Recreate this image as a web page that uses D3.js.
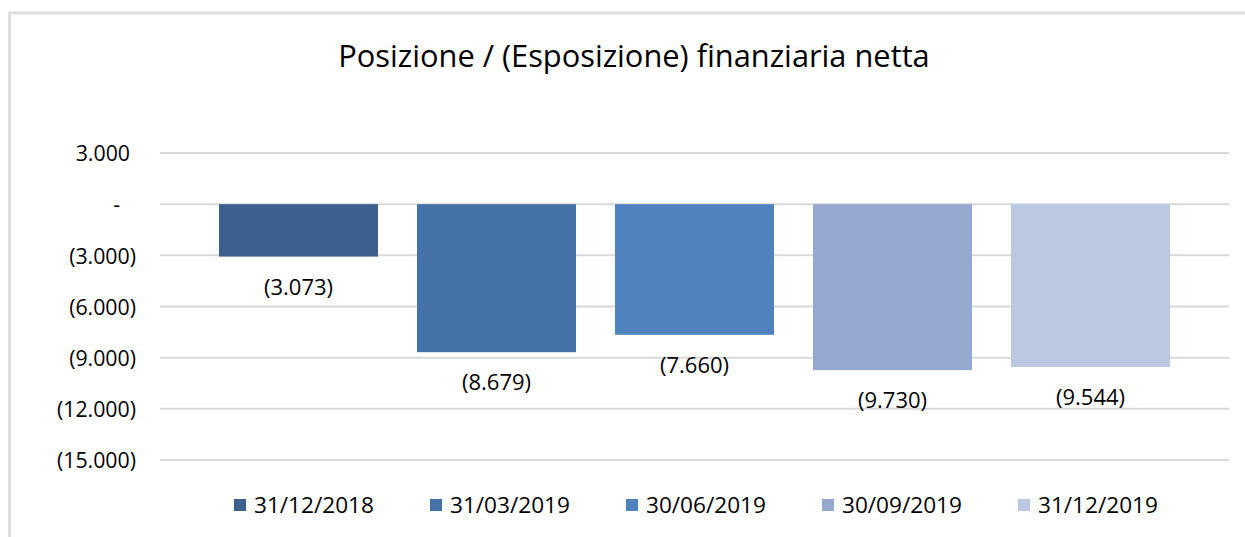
<!doctype html>
<html lang="it">
<head>
  <meta charset="UTF-8">
  <title>Posizione finanziaria netta</title>
  <style type="text/css">
    * { padding: 0; margin: 0; }
    body { background: #fff; }
    text { font-family: "Open Sans", sans-serif; fill: #000; }
    .axis path { display: none; }
    .axis line { display: none; }
  </style>
  <script src="https://cdn.jsdelivr.net/npm/d3@7/dist/d3.min.js"></script>
</head>
<body>
  <svg width="1245" height="537"></svg>
  <script>
    var dates = ["31/12/2018", "31/03/2019", "30/06/2019", "30/09/2019", "31/12/2019"];
    var values = [-3073, -8679, -7660, -9730, -9544];
    var colors = ["#3c5f8e", "#4573a7", "#4f82bf", "#95a9d0", "#bac8e1"];
    var tickValues = [3000, 0, -3000, -6000, -9000, -12000, -15000];

    var svg = d3.select("svg");
    var fmt = d3.formatLocale({ decimal: ",", thousands: ".", grouping: [3], currency: ["", ""] }).format(",d");
    function num(v) {
      if (v === 0) return "-";
      return v < 0 ? "(" + fmt(-v) + ")" : fmt(v);
    }

    // frame
    svg.append("rect")
      .attr("x", 9.5).attr("y", 13)
      .attr("width", 1260).attr("height", 560)
      .attr("fill", "none")
      .attr("stroke", "#dedede")
      .attr("stroke-width", 3);

    svg.append("text")
      .attr("x", 634).attr("y", 67)
      .attr("text-anchor", "middle")
      .style("font-size", "30.8px")
      .text("Posizione / (Esposizione) finanziaria netta");

    var x = d3.scaleBand()
      .domain(dates)
      .range([160, 1229])
      .paddingInner(0.197)
      .paddingOuter(0.298);

    var y = d3.scaleLinear()
      .domain([-15000, 3000])
      .range([460, 153]);

    // gridlines
    svg.append("g")
      .selectAll("line")
      .data(tickValues)
      .enter()
      .append("line")
      .attr("x1", 160).attr("x2", 1229)
      .attr("y1", function (d) { return y(d); })
      .attr("y2", function (d) { return y(d); })
      .attr("stroke", "#d9d9d9")
      .attr("stroke-width", 2);

    var yAxis = d3.axisLeft(y)
      .tickValues(tickValues)
      .tickSize(0)
      .tickPadding(0)
      .tickFormat(num);

    var ax = svg.append("g")
      .attr("class", "axis")
      .attr("transform", "translate(136,0)")
      .call(yAxis);
    ax.selectAll("text")
      .style("font-size", "21.3px")
      .attr("dx", function (d) { return d > 0 ? -6 : (d === 0 ? -16 : 0); })
      .attr("dy", "0.36em");

    svg.append("g")
      .selectAll("rect")
      .data(values)
      .enter()
      .append("rect")
      .attr("x", function (d, i) { return x(dates[i]); })
      .attr("y", y(0))
      .attr("width", x.bandwidth())
      .attr("height", function (d) { return y(d) - y(0); })
      .attr("fill", function (d, i) { return colors[i]; });

    svg.append("g")
      .selectAll("text")
      .data(values)
      .enter()
      .append("text")
      .attr("x", function (d, i) { return x(dates[i]) + x.bandwidth() / 2; })
      .attr("y", function (d) { return y(d) + 38; })
      .attr("text-anchor", "middle")
      .style("font-size", "22px")
      .text(num);

    // legend
    var lg = svg.append("g")
      .selectAll("g")
      .data(dates)
      .enter()
      .append("g")
      .attr("transform", function (d, i) { return "translate(" + (234 + i * 196) + ",499)"; });
    lg.append("rect")
      .attr("width", 12).attr("height", 12)
      .attr("fill", function (d, i) { return colors[i]; });
    lg.append("text")
      .attr("x", 20).attr("y", 14)
      .style("font-size", "22.6px")
      .text(function (d) { return d; });
  </script>
</body>
</html>
